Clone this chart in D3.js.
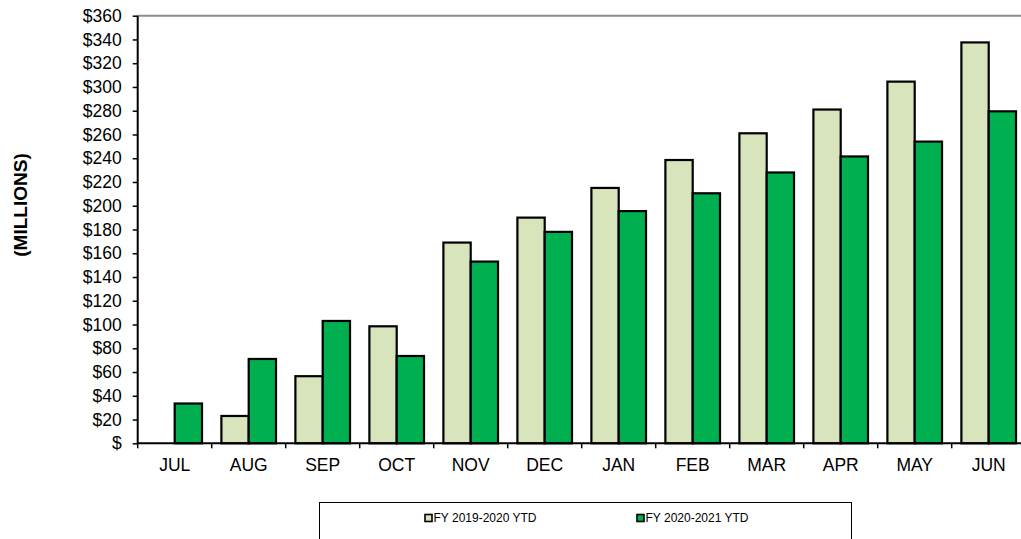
<!DOCTYPE html>
<html>
<head>
<meta charset="utf-8">
<script src="https://cdn.jsdelivr.net/npm/d3@7"></script>
<style>
  html, body { margin: 0; padding: 0; background: #fff; }
  svg { display: block; font-family: "Liberation Sans", Arial, sans-serif; }
</style>
</head>
<body>
<svg id="chart" width="1021" height="539"></svg>
<script>
// Cumulative year-to-date totals, in millions of dollars
const months = ["JUL", "AUG", "SEP", "OCT", "NOV", "DEC", "JAN", "FEB", "MAR", "APR", "MAY", "JUN"];
const seriesNames = ["FY 2019-2020 YTD", "FY 2020-2021 YTD"];
const fy1920 = [0, 23, 56.5, 98.5, 169, 190, 215, 238.5, 261, 281, 304.5, 337.5];
const fy2021 = [33.5, 71, 103, 73.5, 153, 178, 195.5, 210.5, 228, 241.5, 254, 279.5];
const yTicks = [0, 20, 40, 60, 80, 100, 120, 140, 160, 180, 200, 220, 240, 260, 280, 300, 320, 340, 360];
const seriesColors = ["#D8E4BC", "#00B050"];

const svg = d3.select("#chart");

const plot = { left: 137.7, right: 1025.7, top: 15.7, bottom: 443.3 };

const x = d3.scaleBand().domain(months).range([plot.left, plot.right]).padding(0);
const xSub = d3.scaleBand().domain(seriesNames).range([0, x.bandwidth()])
  .paddingInner(0).paddingOuter(0.355);
const y = d3.scaleLinear().domain([0, 360]).range([plot.bottom, plot.top]);

// Plot area frame (top and right edges in grey)
svg.append("path")
  .attr("d", `M${plot.left},${plot.top}H${plot.right}V${plot.bottom}`)
  .attr("fill", "none")
  .attr("stroke", "#8c8c8c")
  .attr("stroke-width", 2);

// Bars
const rows = months.map((m, i) => ({ month: m, values: [fy1920[i], fy2021[i]] }));
const groups = svg.append("g").selectAll("g")
  .data(rows).join("g")
  .attr("transform", d => `translate(${x(d.month)},0)`);

groups.selectAll("rect")
  .data(d => d.values.map((v, k) => ({ name: seriesNames[k], value: v, k })))
  .join("rect")
  .attr("x", d => xSub(d.name))
  .attr("y", d => y(d.value))
  .attr("width", xSub.bandwidth())
  .attr("height", d => y(0) - y(d.value))
  .attr("fill", d => seriesColors[d.k])
  .attr("stroke", "#000")
  .attr("stroke-width", 2.2);

// Y axis
const yAxis = d3.axisLeft(y)
  .tickValues(yTicks)
  .tickSize(5)
  .tickPadding(11)
  .tickFormat(d => d === 0 ? "$" : "$" + d);
const gy = svg.append("g")
  .attr("transform", `translate(${plot.left},0)`)
  .call(yAxis);
gy.select(".domain").attr("stroke", "#000").attr("stroke-width", 2).attr("d", `M0,${plot.top}V${plot.bottom}`);
gy.selectAll(".tick line").attr("stroke", "#000").attr("stroke-width", 1.5);
gy.selectAll(".tick text")
  .attr("fill", "#000")
  .style("font-size", "17.5px")
  .style("font-family", "'Liberation Sans', Arial, sans-serif");

// X axis: ticks at category boundaries
const gx = svg.append("g").attr("transform", `translate(0,${plot.bottom})`);
gx.append("line")
  .attr("x1", plot.left).attr("x2", plot.right)
  .attr("stroke", "#000").attr("stroke-width", 2);
gx.selectAll("line.tick")
  .data(months.concat(["end"]))
  .join("line")
  .attr("class", "tick")
  .attr("x1", (d, i) => plot.left + i * x.step())
  .attr("x2", (d, i) => plot.left + i * x.step())
  .attr("y1", 0).attr("y2", 5)
  .attr("stroke", "#000").attr("stroke-width", 1.5);
gx.selectAll("text")
  .data(months)
  .join("text")
  .attr("x", d => x(d) + x.bandwidth() / 2)
  .attr("y", 28)
  .attr("text-anchor", "middle")
  .style("font-size", "17.5px")
  .attr("fill", "#000")
  .text(d => d);

// Y axis title
svg.append("text")
  .attr("transform", "translate(27,205) rotate(-90)")
  .attr("text-anchor", "middle")
  .style("font-size", "19px")
  .style("font-weight", "bold")
  .attr("fill", "#000")
  .text("(MILLIONS)");

// Legend
const legend = svg.append("g");
legend.append("rect")
  .attr("x", 319.5).attr("y", 502.5)
  .attr("width", 532).attr("height", 60)
  .attr("fill", "#fff")
  .attr("stroke", "#000")
  .attr("stroke-width", 1);

const legendX = [425, 637];
const items = legend.selectAll("g.item")
  .data(seriesNames)
  .join("g")
  .attr("class", "item")
  .attr("transform", (d, i) => `translate(${legendX[i]},518)`);
items.append("rect")
  .attr("x", 0).attr("y", -3.5)
  .attr("width", 7).attr("height", 7)
  .attr("fill", (d, i) => seriesColors[i])
  .attr("stroke", "#000")
  .attr("stroke-width", 1.6);
items.append("text")
  .attr("x", 8.5)
  .attr("y", 4.3)
  .style("font-size", "12px")
  .attr("fill", "#000")
  .text(d => d);
</script>
</body>
</html>
